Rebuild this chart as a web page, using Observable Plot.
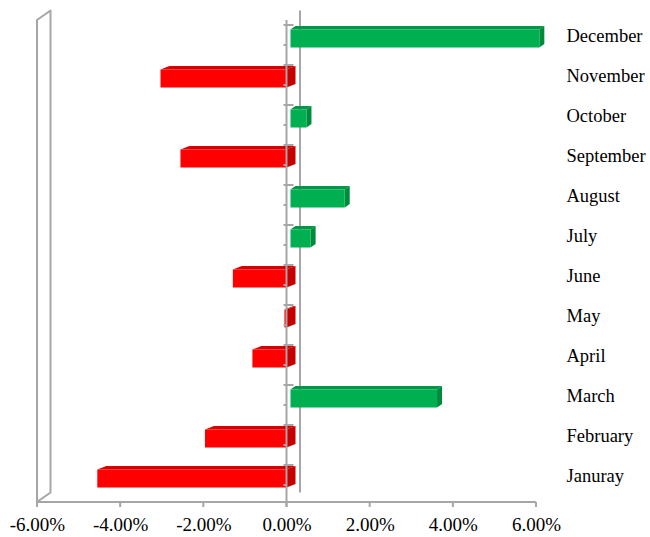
<!DOCTYPE html>
<html>
<head>
<meta charset="utf-8">
<script src="https://cdn.jsdelivr.net/npm/d3@7"></script>
<script src="https://cdn.jsdelivr.net/npm/@observablehq/plot@0.6"></script>
<style>
  html, body { margin: 0; padding: 0; background: #ffffff; }
  #chart svg { display: block; }
</style>
</head>
<body>
<div id="chart"></div>
<script>
// Monthly change, in percent
const months = ["December", "November", "October", "September", "August", "July",
                "June", "May", "April", "March", "February", "Januray"];
const changes = [6.08, -3.03, 0.48, -2.55, 1.40, 0.58, -1.29, -0.05, -0.82, 3.62, -1.96, -4.55];

// Value axis
const xTicks = [-6, -4, -2, 0, 2, 4, 6];
const xTickLabels = ["-6.00%", "-4.00%", "-2.00%", "0.00%", "2.00%", "4.00%", "6.00%"];

const rows = months.map((month, i) => ({month, value: changes[i]}));
const gains = rows.filter(d => d.value >= 0);
const losses = rows.filter(d => d.value < 0);

// Styling
const RED = "#ff0000", RED_DARK = "#c40000", RED_TOP = "#d80000";
const GREEN = "#00b050", GREEN_DARK = "#008a3c", GREEN_TOP = "#009846";
const AXIS_GRAY = "#a6a6a6";
const INSET_TOP = 11.5, INSET_BOTTOM = 10.5;   // bar thickness inside its band
const GAIN_INSET_LEFT = 4;                     // gains start just right of the front axis
const RED_DX = 9, GREEN_DX = 5, BAR_DY = -3.5; // bar depth (oblique)
const WALL_DX = 13.5, WALL_DY = -9.5;          // chart depth (oblique)
const FRONT_DROP = 7;                          // front plane sits below the bands
const FONT = "'Liberation Serif', 'Times New Roman', serif";

// Back wall line at zero and the thin left side wall
function walls(index, {x, y}) {
  const g = d3.create("svg:g").attr("fill", "none").attr("stroke", AXIS_GRAY).attr("stroke-width", 2);
  const [yTop, yEnd] = y.range();
  const top = yTop + 3, floor = yEnd + 3;
  const x0 = x(0), xl = x(xTicks[0]);
  g.append("line")
    .attr("x1", x0 + WALL_DX).attr("x2", x0 + WALL_DX)
    .attr("y1", top + WALL_DY).attr("y2", floor + WALL_DY);
  g.append("path")
    .attr("stroke-linejoin", "round")
    .attr("d", `M${xl},${floor}L${xl},${top}L${xl + WALL_DX},${top + WALL_DY}L${xl + WALL_DX},${floor + WALL_DY}Z`);
  return g.node();
}

// Top and end faces that give each bar its depth
function barDepth(index, {x, y}) {
  const g = d3.create("svg:g");
  const bw = y.bandwidth();
  for (const d of rows) {
    const up = d.value >= 0;
    const dx = up ? GREEN_DX : RED_DX;
    const xa = x(Math.min(0, d.value)) + (up ? GAIN_INSET_LEFT : 0);
    const xb = x(Math.max(0, d.value));
    const yt = y(d.month) + INSET_TOP, yb = y(d.month) + bw - INSET_BOTTOM;
    g.append("path")
      .attr("fill", up ? GREEN_TOP : RED_TOP)
      .attr("d", `M${xa},${yt}L${xa + dx},${yt + BAR_DY}L${xb + dx},${yt + BAR_DY}L${xb},${yt}Z`);
    g.append("path")
      .attr("fill", up ? GREEN_DARK : RED_DARK)
      .attr("d", `M${xb},${yt}L${xb + dx},${yt + BAR_DY}L${xb + dx},${yb + BAR_DY}L${xb},${yb}Z`);
  }
  return g.node();
}

// Front category axis at zero and the bottom value axis line
function frontAxes(index, {x, y}) {
  const g = d3.create("svg:g").attr("stroke", AXIS_GRAY).attr("stroke-width", 2).attr("fill", "none");
  const bw = y.bandwidth();
  const [yTop, yEnd] = y.range();
  const x0 = x(0);
  const floor = yEnd + 3;
  g.append("line").attr("x1", x0).attr("x2", x0).attr("y1", yTop + 3).attr("y2", yEnd + FRONT_DROP + 1);
  for (const m of months) {
    const yb = y(m) + FRONT_DROP;
    g.append("line").attr("x1", x0 - 3).attr("x2", x0 + 7).attr("y1", yb).attr("y2", yb);
    g.append("line").attr("x1", x0 - 3).attr("x2", x0).attr("y1", yb + bw / 2).attr("y2", yb + bw / 2);
  }
  g.append("line")
    .attr("x1", x(xTicks[0])).attr("x2", x(xTicks[xTicks.length - 1]))
    .attr("y1", floor).attr("y2", floor);
  for (const t of xTicks) {
    g.append("line").attr("x1", x(t)).attr("x2", x(t)).attr("y1", floor).attr("y2", floor + 5);
  }
  return g.node();
}

const chart = Plot.plot({
  width: 650,
  height: 537,
  marginLeft: 37,
  marginRight: 114,
  marginTop: 17,
  marginBottom: 38,
  style: {fontFamily: FONT, background: "#ffffff", color: "#000000"},
  x: {domain: [xTicks[0], xTicks[xTicks.length - 1]]},
  y: {domain: months, padding: 0},
  marks: [
    walls,
    barDepth,
    Plot.barX(losses, {
      y: "month", x1: 0, x2: "value", fill: RED,
      insetTop: INSET_TOP, insetBottom: INSET_BOTTOM
    }),
    Plot.barX(gains, {
      y: "month", x1: 0, x2: "value", fill: GREEN,
      insetTop: INSET_TOP, insetBottom: INSET_BOTTOM, insetLeft: GAIN_INSET_LEFT
    }),
    frontAxes,
    Plot.axisX({
      anchor: "bottom",
      ticks: xTicks,
      tickFormat: d => xTickLabels[xTicks.indexOf(d)],
      tickSize: 0,
      tickPadding: 18,
      fontSize: 19,
      fill: "#000000",
      label: null
    }),
    Plot.axisY({
      anchor: "right",
      tickSize: 0,
      tickPadding: 30,
      dy: -2,
      fontSize: 18.5,
      textAnchor: "start",
      fill: "#000000",
      label: null
    })
  ]
});

document.getElementById("chart").append(chart);
</script>
</body>
</html>
